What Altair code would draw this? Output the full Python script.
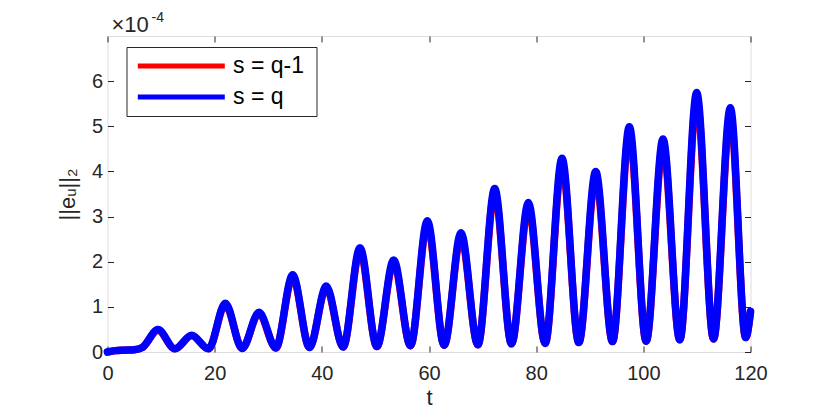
import altair as alt
import pandas as pd

# ---- data (values in units of 1e-4) ----
t_vals = [0.0, 1.5, 3.0, 5.0, 6.5, 9.42, 12.57, 15.71, 18.85, 21.99, 25.13, 28.27,
          31.42, 34.56, 37.70, 40.84, 43.98, 47.12, 50.27, 53.41, 56.55, 59.69,
          62.83, 65.97, 69.12, 72.26, 75.40, 78.54, 81.68, 84.82, 87.96, 91.11,
          94.25, 97.39, 100.53, 103.67, 106.81, 109.96, 113.10, 116.24, 119.1, 120.0]
err_s_q = [0.0, 0.03, 0.04, 0.05, 0.10, 0.50, 0.07, 0.37, 0.07, 1.08, 0.08, 0.88,
           0.09, 1.71, 0.10, 1.46, 0.11, 2.31, 0.12, 2.04, 0.14, 2.91, 0.15, 2.64,
           0.16, 3.62, 0.18, 3.31, 0.19, 4.29, 0.21, 4.00, 0.23, 4.99, 0.24, 4.72,
           0.27, 5.75, 0.29, 5.41, 0.32, 0.90]
err_s_qm1 = [0.0, 0.03, 0.04, 0.05, 0.10, 0.48, 0.07, 0.36, 0.07, 1.05, 0.08, 0.85,
             0.09, 1.66, 0.10, 1.42, 0.11, 2.24, 0.12, 1.98, 0.14, 2.83, 0.15, 2.56,
             0.16, 3.52, 0.18, 3.21, 0.19, 4.17, 0.21, 3.88, 0.23, 4.85, 0.24, 4.58,
             0.27, 5.59, 0.29, 5.26, 0.32, 0.88]
series_names = ["s = q-1", "s = q"]
series_colors = ["#ff0000", "#0000ff"]
x_ticks = [0, 20, 40, 60, 80, 100, 120]
y_ticks = [0, 1, 2, 3, 4, 5, 6]
exponent_base = ["×10"]
exponent_power = ["-4"]
exponent_anchor_t = [0]
exponent_anchor_err = [7]

rows = []
for name, vals in zip(series_names, [err_s_qm1, err_s_q]):
    for tv, ev in zip(t_vals, vals):
        rows.append({"t": tv, "err": ev, "series": name})
df = pd.DataFrame(rows)
df_expo = pd.DataFrame({"t": exponent_anchor_t, "err": exponent_anchor_err,
                        "base": exponent_base, "power": exponent_power})

FONT = "Liberation Sans"
AX = "#262626"

xscale = alt.Scale(domain=[0, 120], nice=False, zero=False)
yscale = alt.Scale(domain=[0, 7], nice=False)

common_axis = dict(grid=False, domain=False, tickSize=6, offset=-6, tickColor=AX,
                   tickWidth=1, labelColor=AX, labelFont=FONT, labelFontSize=20,
                   titleFont=FONT, titleFontSize=22, titleFontWeight="normal",
                   titleColor=AX, labelFlush=False)

base = alt.Chart(df)

lines = base.mark_line(strokeWidth=7.5, interpolate="monotone",
                       strokeCap="round", strokeJoin="round").encode(
    x=alt.X("t:Q", scale=xscale,
            axis=alt.Axis(orient="bottom", values=x_ticks, title="t",
                          labelPadding=11, titlePadding=4, **common_axis)),
    y=alt.Y("err:Q", scale=yscale,
            axis=alt.Axis(orient="left", values=y_ticks, title="||eᵤ||₂",
                          labelPadding=5, titlePadding=12, **common_axis)),
    color=alt.Color("series:N",
                    scale=alt.Scale(domain=series_names, range=series_colors),
                    legend=alt.Legend(orient="none", legendX=19, legendY=11,
                                      title=" ", titleOrient="right",
                                      titleFontSize=14, titlePadding=6,
                                      symbolType="M-0.77,0H7.93",
                                      symbolSize=400, symbolStrokeWidth=5,
                                      labelFont=FONT, labelFontSize=23,
                                      labelColor="#000000",
                                      labelOffset=75, padding=6.5, rowPadding=6,
                                      strokeColor=AX, fillColor="white")),
)

mirror = base.mark_line(opacity=0).encode(
    x=alt.X("t:Q", scale=xscale,
            axis=alt.Axis(orient="top", values=x_ticks, labels=False, title=None,
                          grid=False, domain=False, tickSize=6, offset=-6,
                          tickColor=AX)),
    y=alt.Y("err:Q", scale=yscale,
            axis=alt.Axis(orient="right", values=y_ticks, labels=False, title=None,
                          grid=False, domain=False, tickSize=6, offset=-6,
                          tickColor=AX)),
    detail="series:N",
)

expo_enc = dict(x=alt.X("t:Q", scale=xscale, axis=None),
                y=alt.Y("err:Q", scale=yscale, axis=None))

expo_base = alt.Chart(df_expo).mark_text(
    align="left", baseline="alphabetic", dx=4, dy=-4, fontSize=22, font=FONT,
    color=AX
).encode(text="base:N", **expo_enc)

expo_power = alt.Chart(df_expo).mark_text(
    align="left", baseline="alphabetic", dx=44, dy=-14, fontSize=14, font=FONT,
    color=AX
).encode(text="power:N", **expo_enc)

chart = alt.layer(lines, mirror, expo_base, expo_power).properties(
    width=643,
    height=316,
    autosize=alt.AutoSizeParams(type="none"),
    padding={"left": 99.5, "top": 28, "right": 60, "bottom": 60},
).configure_view(stroke=AX, strokeWidth=1).configure(font=FONT, background="white")

chart.save("out.html", embed_options={"renderer": "svg", "actions": False})
